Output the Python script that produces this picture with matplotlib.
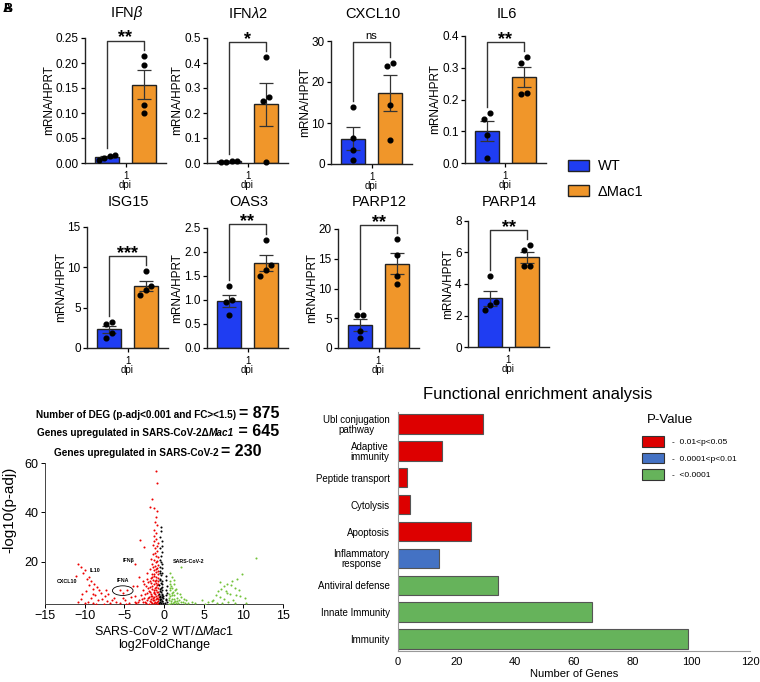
import numpy as np
import matplotlib
matplotlib.use("Agg")
import matplotlib.pyplot as plt
from matplotlib.patches import Patch, Ellipse
from matplotlib.offsetbox import TextArea, HPacker, AnnotationBbox

plt.rcParams['font.family'] = ['Liberation Sans', 'DejaVu Sans']
plt.rcParams['mathtext.fontset'] = 'custom'
plt.rcParams['mathtext.rm'] = 'Liberation Sans'
plt.rcParams['mathtext.it'] = 'Liberation Sans:italic'
plt.rcParams['mathtext.bf'] = 'Liberation Sans:bold'

W, H = 760, 682

# ---- qPCR panels (4 replicates each) ----
genes = ["IFN$\\mathit{β}$", "IFN$\\mathit{λ}$2", "CXCL10", "IL6",
         "ISG15", "OAS3", "PARP12", "PARP14"]
wt_vals = [
    [0.017, 0.015, 0.010, 0.006],
    [0.010, 0.008, 0.005, 0.006],
    [13.9, 6.4, 3.5, 0.9],
    [0.156, 0.140, 0.089, 0.017],
    [3.18, 2.97, 1.86, 1.24],
    [1.29, 1.00, 0.95, 0.69],
    [5.5, 5.6, 1.6, 2.9],
    [4.52, 2.85, 2.64, 2.33],
]
mac1_vals = [
    [0.214, 0.197, 0.117, 0.100],
    [0.424, 0.263, 0.247, 0.003],
    [23.9, 24.7, 14.5, 5.9],
    [0.333, 0.316, 0.216, 0.221],
    [9.5, 7.64, 7.23, 6.6],
    [2.26, 1.72, 1.62, 1.50],
    [18.3, 15.7, 10.7, 12.1],
    [6.45, 6.13, 5.12, 5.12],
]
signif = ["**", "*", "ns", "**", "***", "**", "**", "**"]
bracket_top = [0.245, 0.483, 29.7, 0.382, 11.4, 2.58, 20.7, 7.4]
y_max = [0.25, 0.5, 30, 0.4, 15, 2.5, 20, 8]
y_step = [0.05, 0.1, 10, 0.1, 5, 0.5, 5, 2]
y_fmt = ["%.2f", "%.1f", "%d", "%.1f", "%d", "%.1f", "%d", "%d"]

# axes placement in pixels: left, top, width, bottom
panel_px = [(85, 38, 81, 163), (207, 38, 81, 163), (331, 41, 81, 164), (465, 36, 81, 163),
            (87, 227, 81, 348), (207, 228, 81, 348), (338, 229, 81, 348), (468, 221, 81, 347)]
title_base = [17.5] * 4 + [206] * 4

c_wt = "#1f3df2"
c_mac = "#f0962a"

fig = plt.figure(figsize=(7.6, 6.82), dpi=100)


def rect(l, t, w, b):
    return [l / W, 1 - b / H, w / W, (b - t) / H]


def swarm(vals, ymax):
    vals = np.asarray(vals, float)
    order = np.argsort(vals)
    offs = np.zeros(len(vals))
    groups, cur = [], [order[0]]
    for i in order[1:]:
        if vals[i] - vals[cur[-1]] < 0.05 * ymax:
            cur.append(i)
        else:
            groups.append(cur)
            cur = [i]
    groups.append(cur)
    for g in groups:
        n = len(g)
        for k, i in enumerate(g):
            offs[i] = (k - (n - 1) / 2) * 0.15
    return offs


for i in range(8):
    l, t, w, b = panel_px[i]
    ax = fig.add_axes(rect(l, t, w, b))
    ymax = y_max[i]
    for pos, vals, col in [(-0.5, wt_vals[i], c_wt), (0.5, mac1_vals[i], c_mac)]:
        v = np.asarray(vals)
        m = v.mean()
        sem = v.std(ddof=1) / np.sqrt(len(v))
        ax.bar(pos, m, width=0.66, color=col, edgecolor="#222222", linewidth=1.0, zorder=2)
        ax.errorbar(pos, m, yerr=sem, fmt="none", ecolor="#333333", elinewidth=0.9,
                    capsize=5, capthick=0.9, zorder=3)
        ax.plot(pos + swarm(v, ymax), v, "o", color="black", ms=3.4, zorder=4, clip_on=False)
    gap = 0.05 * ymax
    lo_l = max(wt_vals[i]) + gap
    lo_r = max(mac1_vals[i]) + gap
    bt = bracket_top[i]
    ax.plot([-0.5, -0.5, 0.5, 0.5], [lo_l, bt, bt, lo_r], color="#333333", lw=1.0,
            clip_on=False, zorder=5)
    if signif[i] == "ns":
        ax.annotate("ns", (0, bt), xytext=(0, 2.5), textcoords="offset points",
                    ha="center", va="baseline", fontsize=8, annotation_clip=False)
    else:
        ax.annotate(signif[i], (0, bt), xytext=(0, -1.5), textcoords="offset points",
                    ha="center", va="baseline", fontsize=13, fontweight="bold",
                    annotation_clip=False)
    ax.set_xlim(-1.1, 1.1)
    ax.set_ylim(0, ymax)
    ax.set_yticks(np.arange(0, ymax + y_step[i] / 2, y_step[i]))
    ax.yaxis.set_major_formatter(matplotlib.ticker.FormatStrFormatter(y_fmt[i]))
    ax.set_xticks([0])
    ax.set_xticklabels(["1\ndpi"], fontsize=7, linespacing=0.95)
    ax.tick_params(axis="y", labelsize=8.5, length=3, width=0.9, pad=1.5)
    ax.tick_params(axis="x", length=3, width=0.9, pad=2.5)
    ax.spines[["top", "right"]].set_visible(False)
    for s in ["left", "bottom"]:
        ax.spines[s].set_linewidth(1.0)
        ax.spines[s].set_color("#222222")
    ax.set_ylabel("mRNA/HPRT", fontsize=8.5, labelpad=0.5)
    fig.text((l + w / 2 + 1) / W, 1 - title_base[i] / H, genes[i], fontsize=10.5,
             ha="center", va="baseline")

fig.legend(handles=[Patch(facecolor=c_wt, edgecolor="#222222", lw=1.0),
                    Patch(facecolor=c_mac, edgecolor="#222222", lw=1.0)],
           labels=["WT", "ΔMac1"], loc="upper left", bbox_to_anchor=(561 / W, 1 - 152 / H),
           frameon=False, fontsize=10.5, handlelength=1.4, handleheight=0.8,
           labelspacing=0.8, handletextpad=0.6, borderpad=0)

fig.text(3 / W, 1 - 3 / H, "A", fontsize=9, fontweight="bold", va="top")
fig.text(3 / W, 1 - 3 / H, "B", fontsize=9, fontweight="bold", va="top")

# ---- volcano plot ----
red_pts = [(-1.05, 56.8), (-0.85, 51.8), (-1.55, 45.4), (-1.75, 42.2), (-1.2, 42.0), (-0.85, 40.6),
           (-1.0, 38.0), (-1.15, 36.2), (-0.9, 34.8), (-1.3, 33.1), (-0.95, 31.6), (-1.25, 30.4),
           (-3.0, 28.8), (-1.05, 29.2), (-0.8, 27.7), (-1.4, 26.9), (-2.5, 26.0), (-1.1, 25.6),
           (-0.9, 24.3), (-1.35, 23.4), (-1.05, 22.5), (-0.8, 21.9), (-1.6, 21.2), (-1.2, 20.6),
           (-0.95, 19.8), (-3.6, 19.0), (-1.45, 19.1), (-1.1, 18.4), (-0.85, 17.7), (-1.8, 17.2),
           (-1.3, 16.6), (-1.0, 16.1), (-2.2, 15.6), (-1.55, 15.3), (-0.8, 15.0), (-3.2, 14.0),
           (-1.25, 14.4), (-0.95, 13.9), (-1.7, 13.5), (-2.7, 12.4), (-1.4, 12.9), (-1.1, 12.5),
           (-0.8, 12.1), (-2.0, 11.8), (-1.6, 11.3), (-1.3, 11.0), (-0.9, 10.7), (-3.4, 10.3),
           (-2.3, 10.1), (-1.75, 9.9), (-1.15, 9.6), (-0.75, 9.3), (-1.5, 9.0), (-2.6, 8.7),
           (-1.0, 8.5), (-1.9, 8.2), (-1.3, 7.9), (-0.85, 7.7), (-2.2, 7.4), (-1.6, 7.1),
           (-1.1, 6.9), (-2.9, 6.6), (-0.7, 6.5), (-1.45, 6.3), (-1.9, 6.0), (-1.2, 5.8),
           (-0.9, 5.6), (-2.5, 5.4), (-1.6, 5.2), (-1.0, 5.0), (-3.1, 4.8), (-2.1, 4.7),
           (-1.35, 4.5), (-0.75, 4.4), (-1.8, 4.2), (-1.1, 4.0), (-2.7, 3.9), (-0.9, 3.8),
           (-1.5, 3.6), (-2.3, 3.4), (-1.2, 3.3), (-0.7, 3.2), (-3.5, 3.3), (-1.95, 3.2),
           (-2.4, 3.7), (-1.65, 3.9), (-1.05, 3.5), (-0.8, 4.9), (-1.25, 4.8), (-2.0, 5.6),
           (-1.4, 5.4), (-0.65, 5.9), (-1.7, 6.4), (-1.0, 6.2), (-2.4, 6.9), (-1.25, 7.3),
           (-0.75, 7.9), (-1.75, 7.7), (-2.0, 9.3), (-1.2, 8.8), (-0.95, 9.9), (-1.45, 10.4),
           (-2.5, 11.0), (-1.05, 11.5), (-1.8, 12.2), (-0.95, 12.9), (-1.5, 13.9), (-1.2, 15.2),
           (-1.05, 17.0), (-1.35, 17.9), (-0.9, 20.4), (-1.15, 23.6), (-0.9, 26.3), (-1.2, 28.3),
           (-3.3, 3.8), (-2.8, 5.1), (-3.7, 6.3), (-2.1, 13.0), (-4.4, 3.4), (-0.7, 11.0),
           (-0.7, 13.6), (-0.75, 16.2), (-0.7, 18.8),
           (-10.9, 19.3), (-10.4, 18.0), (-11.1, 14.2), (-10.2, 15.5), (-9.9, 16.6), (-9.4, 14.0),
           (-9.2, 12.1), (-8.8, 11.0), (-8.4, 10.0), (-9.0, 9.1), (-9.8, 8.2), (-10.3, 7.0),
           (-8.0, 7.6), (-7.5, 6.1), (-7.8, 5.0), (-8.3, 4.5), (-9.6, 4.0), (-10.0, 3.5),
           (-9.0, 3.6), (-7.2, 4.1), (-6.8, 3.4), (-7.6, 3.2), (-6.0, 4.0), (-5.5, 3.5),
           (-4.8, 3.2), (-4.9, 4.8), (-6.3, 5.6), (-8.7, 6.6), (-9.2, 5.5), (-10.5, 5.0),
           (-7.0, 7.1), (-8.2, 8.6), (-3.9, 10.1), (-4.2, 6.0), (-3.6, 4.0), (-9.5, 10.5),
           (-8.6, 3.2), (-7.3, 8.8), (-6.6, 4.8), (-5.2, 5.5), (-10.8, 3.8), (-5.6, 8.8),
           (-5.2, 7.4), (-4.7, 8.8), (-9.7, 13.2), (-8.9, 7.2)]
black_pts = [(-0.4, 34.0), (-0.35, 32.6), (-0.5, 30.1), (-0.3, 28.3), (-0.45, 25.6), (-0.25, 24.1),
             (-0.4, 22.3), (-0.55, 20.6), (-0.3, 19.2), (-0.2, 17.6), (-0.45, 16.2), (-0.35, 14.7),
             (-0.55, 13.1), (-0.25, 12.2), (-0.4, 11.4), (-0.6, 10.6), (-0.3, 9.9), (-0.5, 9.2),
             (-0.2, 8.5), (-0.4, 7.8), (-0.6, 7.2), (-0.3, 6.6), (-0.5, 6.0), (-0.15, 5.5),
             (-0.35, 5.0), (-0.55, 4.5), (-0.25, 4.1), (-0.45, 3.7), (-0.1, 3.3), (-0.6, 3.4),
             (0.3, 14.2), (0.4, 10.3), (0.35, 7.5), (0.25, 5.2), (0.4, 3.8), (-0.4, 20.0),
             (-0.5, 18.0), (-0.3, 15.5), (0.2, 12.8), (0.3, 4.5),
             (-0.45, 12.7), (-0.3, 11.0), (-0.5, 8.1), (-0.25, 7.2), (-0.45, 6.3), (-0.3, 5.7),
             (-0.5, 4.9), (-0.2, 4.4), (-0.35, 3.4), (-0.15, 6.1), (-0.4, 9.5), (-0.55, 15.4),
             (-0.3, 26.5), (0.3, 8.8), (0.2, 6.5), (0.15, 3.5)]
green_pts = [(0.7, 15.6), (1.0, 14.1), (0.8, 12.2), (1.25, 12.6), (1.2, 11.1), (0.9, 10.1),
             (1.5, 9.2), (0.7, 8.6), (1.1, 8.0), (2.0, 7.1), (1.3, 6.6), (0.8, 6.1), (1.7, 5.6),
             (2.5, 5.1), (1.0, 5.0), (0.6, 4.6), (1.4, 4.1), (2.2, 4.0), (3.0, 3.5), (0.9, 3.6),
             (1.8, 3.3), (2.8, 4.6), (3.5, 4.0), (0.65, 7.1), (2.2, 18.0), (1.6, 7.6), (0.75, 9.5),
             (1.9, 4.8), (1.15, 3.3), (2.6, 3.3),
             (0.6, 5.6), (0.85, 4.3), (1.05, 6.5), (1.3, 5.2), (0.95, 7.4), (1.35, 8.7),
             (0.7, 11.2), (1.05, 9.5), (1.6, 4.4), (2.1, 5.7), (1.2, 3.8), (0.65, 3.2),
             (2.4, 3.7), (1.5, 3.5),
             (11.6, 21.6), (9.8, 15.3), (9.2, 13.2), (8.6, 12.1), (8.0, 11.1), (7.6, 10.3),
             (7.2, 9.2), (8.9, 9.6), (9.4, 8.6), (6.8, 8.1), (7.9, 7.6), (8.3, 6.9), (6.5, 6.6),
             (7.0, 6.0), (9.6, 6.1), (10.2, 5.4), (7.5, 5.2), (8.7, 4.8), (6.2, 4.6), (4.8, 4.5),
             (5.5, 3.8), (6.0, 4.2), (10.3, 3.5), (5.2, 3.2), (7.3, 3.6), (8.1, 4.0), (9.0, 3.4),
             (6.7, 3.3), (7.8, 8.4), (8.5, 10.5), (7.1, 11.8), (9.1, 6.5), (3.9, 3.4)]
gene_labels = ["CXCL10", "IL10", "IFNβ", "IFNA", "SARS-CoV-2"]
gene_label_xy = [(-12.2, 11.9), (-8.7, 16.6), (-4.5, 20.7), (-5.2, 12.6), (3.1, 20.0)]
deg_lines = [("Number of DEG (p-adj<0.001 and FC><1.5) ", None, "= 875"),
             ("Genes upregulated in SARS-CoV-2Δ", "Mac1", " = 645"),
             ("Genes upregulated in SARS-CoV-2 ", None, "= 230")]

vax = fig.add_axes(rect(45, 463, 238, 604))
for pts, col in [(red_pts, "#ee0000"), (black_pts, "black"), (green_pts, "#72c23a")]:
    p = np.array(pts)
    vax.scatter(p[:, 0], p[:, 1], s=2.2, color=col, linewidths=0, zorder=3)
for lab, (x, y) in zip(gene_labels, gene_label_xy):
    vax.text(x, y, lab, fontsize=3.8, fontweight="bold", ha="center", va="center")
vax.add_patch(Ellipse((-5.2, 8.4), 2.6, 3.9, fill=False, lw=0.6, color="black"))
vax.set_xlim(-15, 15)
vax.set_ylim(3, 60)
vax.set_xticks(np.arange(-15, 16, 5))
vax.set_yticks([20, 40, 60])
vax.tick_params(labelsize=9, length=3, width=0.7, pad=1.5)
vax.spines[["top", "right"]].set_visible(False)
for s in ["left", "bottom"]:
    vax.spines[s].set_linewidth(0.7)
    vax.spines[s].set_color("#444444")
vax.set_ylabel("-log10(p-adj)", fontsize=11)
vax.yaxis.set_label_coords(-0.12, 0.67)
vax.set_xlabel("SARS-CoV-2 WT/$\\mathit{ΔMac1}$\nlog2FoldChange", fontsize=9,
               labelpad=2, linespacing=1.1)

for (small, ital, big), yc in zip(deg_lines, [414, 432, 451]):
    kids = [TextArea(small, textprops=dict(fontsize=7.2, fontweight="bold"))]
    if ital:
        kids.append(TextArea(ital, textprops=dict(fontsize=7.2, fontweight="bold",
                                                   fontstyle="italic")))
    kids.append(TextArea(big, textprops=dict(fontsize=11.5, fontweight="bold")))
    pack = HPacker(children=kids, align="baseline", pad=0, sep=0)
    fig.add_artist(AnnotationBbox(pack, (158 / W, 1 - yc / H), xycoords="figure fraction",
                                  frameon=False, box_alignment=(0.5, 0.5), pad=0))

# ---- functional enrichment ----
terms = ["Ubl conjugation\npathway", "Adaptive\nimmunity", "Peptide transport", "Cytolysis",
         "Apoptosis", "Inflammatory\nresponse", "Antiviral defense", "Innate Immunity", "Immunity"]
n_genes = [29, 15, 3, 4, 25, 14, 34, 66, 99]
p_class = [0, 0, 0, 0, 0, 1, 2, 2, 2]
p_labels = ["-  0.01<p<0.05", "-  0.0001<p<0.01", "-  <0.0001"]
p_colors = ["#dd0000", "#4472c4", "#66b35b"]

eax = fig.add_axes(rect(398, 412, 352, 651))
ypos = np.arange(len(terms))
eax.barh(ypos, n_genes, height=0.72, color=[p_colors[c] for c in p_class],
         edgecolor="#555555", linewidth=0.8, zorder=2)
eax.set_yticks(ypos)
eax.set_yticklabels(terms, fontsize=7, multialignment="center", linespacing=1.0)
eax.set_ylim(len(terms) - 0.55, -0.45)
eax.set_xlim(0, 120)
eax.set_xticks(np.arange(0, 121, 20))
eax.tick_params(axis="y", length=0, pad=6)
eax.tick_params(axis="x", length=0, labelsize=8, pad=4)
eax.spines[["top", "right"]].set_visible(False)
for s in ["left", "bottom"]:
    eax.spines[s].set_linewidth(0.8)
    eax.spines[s].set_color("#999999")
eax.set_xlabel("Number of Genes", fontsize=8, labelpad=2)
fig.text(538 / W, 1 - 395 / H, "Functional enrichment analysis", fontsize=12,
         ha="center", va="center")
fig.text(670 / W, 1 - 420 / H, "P-Value", fontsize=9.5, ha="center", va="center")
leg = eax.legend(handles=[Patch(facecolor=c, edgecolor="#333333", lw=0.8) for c in p_colors],
                 labels=p_labels, loc="upper left",
                 bbox_to_anchor=(638 / W, 1 - 432 / H), bbox_transform=fig.transFigure,
                 frameon=False, fontsize=6, handlelength=2.6,
                 handleheight=1.6, labelspacing=0.7, handletextpad=1.0, borderpad=0)

fig.savefig("out.png", dpi=100)
